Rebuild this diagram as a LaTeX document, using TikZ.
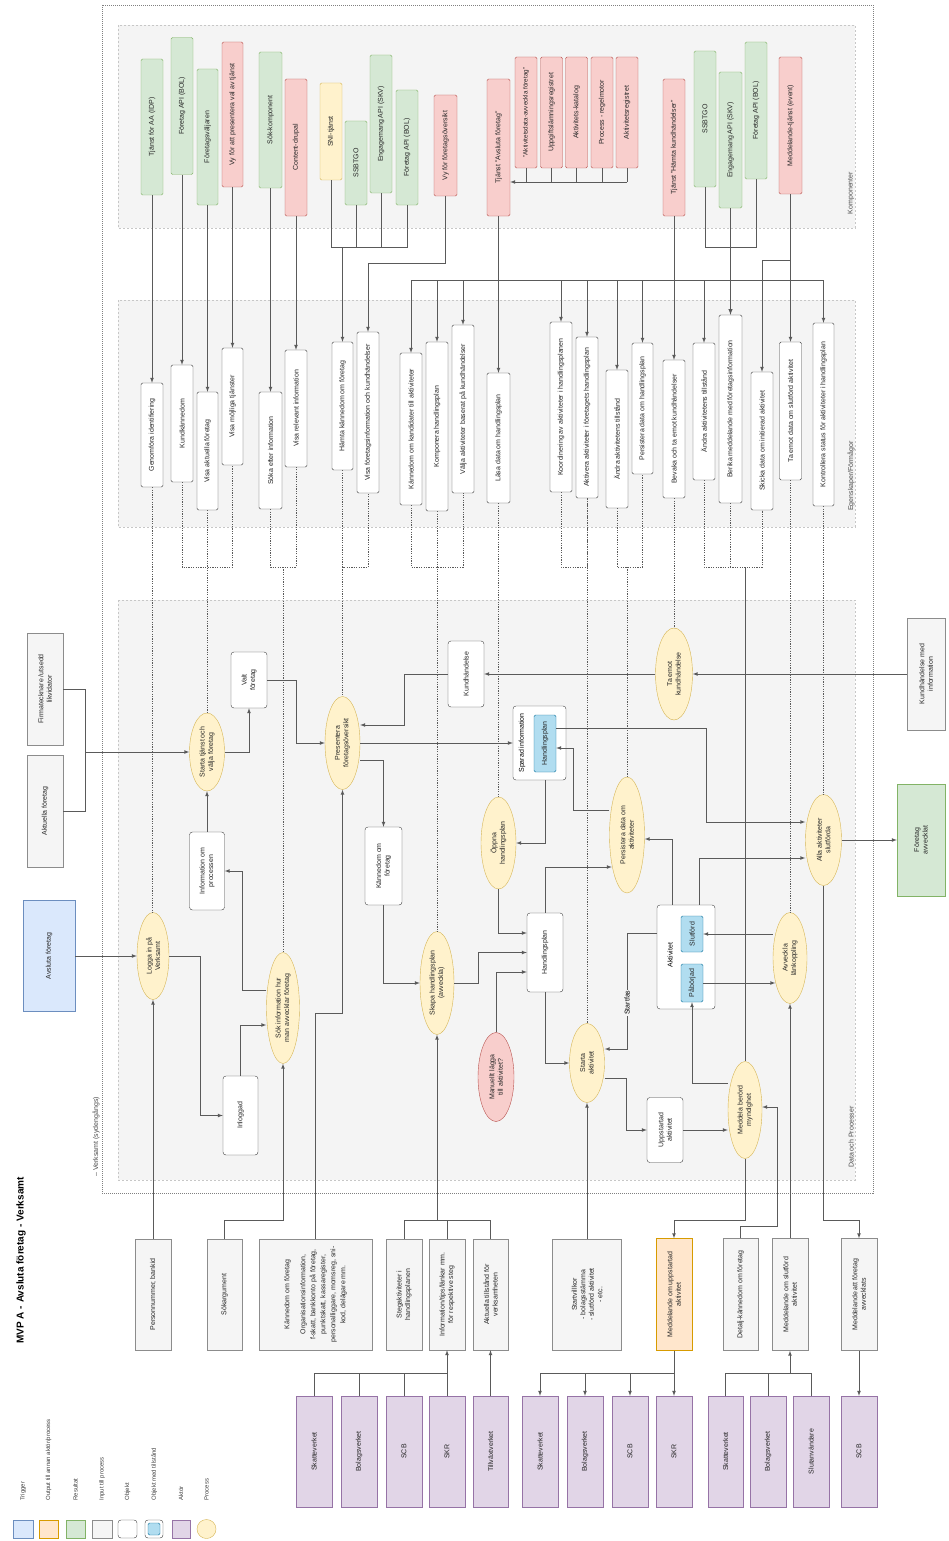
\documentclass[tikz,border=0pt]{standalone}
\usepackage{fontspec}
\setmainfont{Liberation Sans}
\usetikzlibrary{positioning}
\usetikzlibrary{shapes.geometric}
\definecolor{gronFyll}{HTML}{D5E8D4}
\definecolor{gronKant}{HTML}{82B366}
\definecolor{rodFyll}{HTML}{F8CECC}
\definecolor{rodKant}{HTML}{B85450}
\definecolor{gulFyll}{HTML}{FFF2CC}
\definecolor{gulKant}{HTML}{D6B656}
\definecolor{blaFyll}{HTML}{DAE8FC}
\definecolor{blaKant}{HTML}{6C8EBF}
\definecolor{orangeFyll}{HTML}{FFE6CC}
\definecolor{orangeKant}{HTML}{D79B00}
\definecolor{lilaFyll}{HTML}{E1D5E7}
\definecolor{lilaKant}{HTML}{9673A6}
\definecolor{cyanFyll}{HTML}{B1DDF0}
\definecolor{cyanKant}{HTML}{10739E}
\definecolor{gruFyll}{HTML}{F5F5F5}
\definecolor{panelFyll}{HTML}{F4F4F4}
\definecolor{linjeFarg}{HTML}{5A5A5A}
\tikzset{storlek/.style 2 args={minimum height=#1, minimum width=#2},
	ruta/.style={draw, rotate=90, inner sep=1pt, align=center, text=black!85},
	komp/.style={ruta, rounded corners=1.5pt},
	kgron/.style={komp, fill=gronFyll, draw=gronKant},
	krod/.style={komp, fill=rodFyll, draw=rodKant},
	kgul/.style={komp, fill=gulFyll, draw=gulKant},
	egensk/.style={komp, fill=white, draw=black!75},
	objekt/.style={ruta, rounded corners=3pt, fill=white, draw=black!75},
	tillst/.style={komp, fill=cyanFyll, draw=cyanKant},
	process/.style={ellipse, draw=gulKant, fill=gulFyll, rotate=90, inner sep=0pt, align=center, text=black!85},
	indata/.style={ruta, fill=gruFyll, draw=black!45},
	utdata/.style={ruta, fill=orangeFyll, draw=orangeKant},
	trigger/.style={ruta, fill=blaFyll, draw=blaKant},
	resultat/.style={ruta, fill=gronFyll, draw=gronKant},
	aktor/.style={ruta, fill=lilaFyll, draw=lilaKant},
	linje/.style={draw=linjeFarg, line width=0.7pt},
	pil/.style={linje, -latex},
	prick/.style={draw=linjeFarg, line width=0.6pt, dash pattern=on 1.2pt off 1.2pt},
	panel/.style={fill=panelFyll, draw=black!22, dash pattern=on 2pt off 2pt},
	rubrik/.style={rotate=90, text=black!70}}

\begin{document}
\begin{tikzpicture}[x=1pt, y=-1pt, font=\fontsize{7}{8.5}\selectfont]
		\fill[white] (0,0) rectangle (949,1541);
		\useasboundingbox (0,0) rectangle (949,1541);
		% ramar och paneler
		\draw[black!50, dash pattern=on 1pt off 1pt] (102,5) rectangle (873,1193);
		\node[rubrik, anchor=west] (verksamtLbl) at (96,1180) {-- Verksamt (sydengångs)};
		\path[panel] (118,25) rectangle (855,228);
		\path[panel] (118,300) rectangle (855,527);
		\path[panel] (118,600) rectangle (855,1180);
		\node[rubrik] (kompLbl) at (851,193) {Komponenter};
		\node[rubrik] (egenLbl) at (851,476) {Egenskaper/Förmågor};
		\node[rubrik] (dataLbl) at (851,1137) {Data och Processer};
		\node[rotate=90, anchor=west, font=\fontsize{10}{12}\selectfont\bfseries] (titel) at (21,1347) {MVP A - Avsluta företag - Verksamt};

		% komponenter
		\node[kgron, storlek={22}{136}] (tjAA) at (152,127) {Tjänst för AA (IDP)};
		\node[kgron, storlek={22}{137}] (bolApi1) at (182,106) {Företag API (BOL)};
		\node[kgron, storlek={21}{136}] (fvaljare) at (207.5,137) {Företagsväljaren};
		\node[krod, storlek={21}{145}] (vyTjanst) at (232.5,114.5) {Vy för att presentera val av tjänst};
		\node[kgron, storlek={23}{136}] (sokKomp) at (270.5,120) {Sök-komponent};
		\node[krod, storlek={22}{137}] (content) at (296,147.5) {Content-drupal};
		\node[kgul, storlek={22}{97}] (sni) at (331,131.5) {SNI-tjänst};
		\node[kgron, storlek={22}{84}] (ssbtgo1) at (356,163) {SSBTGO};
		\node[kgron, storlek={22}{138}] (engApi1) at (381,124) {Engagemang API (SKV)};
		\node[kgron, storlek={22}{115}] (bolApi2) at (407,147.5) {Företag API (BOL)};
		\node[krod, storlek={23}{101}] (vyOversikt) at (445.5,145.5) {Vy för företagsöversikt};
		\node[krod, storlek={23}{137}] (tjAvsluta) at (498.5,147.5) {Tjänst "Avsluta företag"};
		\node[krod, storlek={22}{111}, font=\fontsize{6.3}{7.5}\selectfont] (aktData) at (526,112.5) {"Aktivitetsdata-avveckla företag"};
		\node[krod, storlek={22}{111}] (uppgReg) at (551.5,112.5) {Uppgiftslämningsregistret};
		\node[krod, storlek={22}{111}] (aktKatalog) at (576.5,112.5) {Aktivitets-katalog};
		\node[krod, storlek={22}{111}] (regelmotor) at (602,112.5) {Process - regelmotor};
		\node[krod, storlek={22}{111}] (aktReg) at (627,112.5) {Aktivitetsregistret};
		\node[krod, storlek={22}{137}] (tjHamta) at (674,147.5) {Tjänst "Hämta kundhändelser"};
		\node[kgron, storlek={22}{136}] (ssbtgo2) at (705,119) {SSBTGO};
		\node[kgron, storlek={23}{136}] (engApi2) at (730.5,140) {Engagemang API (SKV)};
		\node[kgron, storlek={22}{137}] (bolApi3) at (756,110.5) {Företag API (BOL)};
		\node[krod, storlek={23}{137}] (meddTjanst) at (790.5,125.5) {Meddelande-tjänst (event)};

		% egenskaper/formagor
		\node[egensk, storlek={22}{104}] (genomfora) at (152,435) {Genomföra identifiering};
		\node[egensk, storlek={22}{117}] (kundkann) at (182,423.5) {Kundkännedom};
		\node[egensk, storlek={21}{118}] (visaAktuella) at (207.5,451) {Visa aktuella företag};
		\node[egensk, storlek={21}{117}] (visaMojliga) at (232.5,406.5) {Visa möjliga tjänster};
		\node[egensk, storlek={23}{117}] (sokaInfo) at (270.5,450.5) {Söka efter information};
		\node[egensk, storlek={22}{117}] (visaRelevant) at (296,408.5) {Visa relevant information};
		\node[egensk, storlek={21}{128}] (hamtaKann) at (342.5,406) {Hämta kännedom om företag};
		\node[egensk, storlek={22}{161}] (visaFtgInfo) at (368,412.5) {Visa företagsinformation och kundhändelser};
		\node[egensk, storlek={22}{152}] (kannKand) at (411,429) {Kännedom om kandidater till aktiviteter};
		\node[egensk, storlek={22}{169}] (komponera) at (437,426.5) {Komponera handlingsplan};
		\node[egensk, storlek={22}{168}] (valjaAkt) at (463,409) {Välja aktiviteter baserat på kundhändelser};
		\node[egensk, storlek={23}{130}] (lasaData) at (498.5,438) {Läsa data om handlingsplan};
		\node[egensk, storlek={22}{170}] (koordinering) at (561,407) {Koordinering av aktiviteter i handlingsplanen};
		\node[egensk, storlek={22}{161}] (aktivera) at (587,417.5) {Aktivera aktiviteter i företagets handlingsplan};
		\node[egensk, storlek={22}{138}] (andraTillst1) at (617,439) {Ändra aktivitetens tillstånd};
		\node[egensk, storlek={21}{131}] (persistPlan) at (642.5,408.5) {Persistera data om handlingsplan};
		\node[egensk, storlek={22}{138}] (bevaka) at (674,429) {Bevaka och ta emot kundhändelser};
		\node[egensk, storlek={22}{137}] (andraTillst2) at (704,411.5) {Ändra aktivitetens tillstånd};
		\node[egensk, storlek={23}{188}] (berika) at (730.5,409) {Berika meddelande med företagsinformation};
		\node[egensk, storlek={22}{138}] (skicka) at (762,441) {Skicka data om initierad aktivitet};
		\node[egensk, storlek={22}{138}] (taEmotSlut) at (790.5,411) {Ta emot data om slutförd aktivitet};
		\node[egensk, storlek={21}{183}] (kontrollera) at (823.5,414.5) {Kontrollera status för aktiviteter i handlingsplan};

		% processer
		\node[process, storlek={32}{87}] (logga) at (153,956) {Logga in på\\Verksamt};
		\node[process, storlek={33}{111}] (sokInfo) at (283,1008) {Sök information hur\\man avvecklar företag};
		\node[process, storlek={35}{78}] (starta) at (207,752) {Starta tjänst och\\välja företag};
		\node[process, storlek={35}{93}] (presentera) at (342.5,743) {Presentera\\företagsöversikt};
		\node[process, storlek={34}{103}] (skapa) at (437,983) {Skapa handlingsplan\\(avveckla)};
		\node[process, storlek={35}{92}] (oppna) at (498.5,843) {Öppna\\handlingsplan};
		\node[process, fill=rodFyll, draw=rodKant, storlek={36}{89}] (manuellt) at (496,1077) {Manuellt lägga\\till aktivitet?};
		\node[process, storlek={35}{79}] (startaAkt) at (587,1063) {Starta\\aktivitet};
		\node[process, storlek={35}{116}] (persistAkt) at (627,835) {Persistera data om\\aktiviteter};
		\node[process, storlek={37}{92}] (taEmot) at (674,674) {Ta emot\\kundhändelse};
		\node[process, storlek={34}{97}] (meddela) at (745,1110) {Meddela berörd\\myndighet};
		\node[process, storlek={34}{91}] (avveckla) at (790,958) {Avveckla\\länkoppling};
		\node[process, storlek={36}{91}] (alla) at (823.5,840) {Alla aktiviteter\\slutförda};

		% objekt
		\node[objekt, storlek={35}{79}] (inloggad) at (240.5,1115.5) {Inloggad};
		\node[objekt, storlek={35}{78}] (infoProc) at (207,871) {Information om\\processen};
		\node[objekt, storlek={36}{56}] (valt) at (249,680) {Valt\\företag};
		\node[objekt, storlek={36}{66}] (kundh) at (466,674) {Kundhändelse};
		\node[objekt, storlek={37}{78}] (kannFtg) at (383.5,866) {Kännedom om\\företag};
		\node[objekt, storlek={36}{79}] (hplan) at (545,952.5) {Handlingsplan};
		\node[objekt, storlek={36}{65}] (uppstartad) at (665,1130) {Uppstartad\\aktivitet};
		\node[objekt, storlek={53}{74}] (sparad) at (539.5,743) {};
		\node[rotate=90] (sparadLbl) at (522,743) {Sparad information};
		\node[tillst, storlek={22}{57}] (hplanInner) at (545,743.5) {Handlingsplan};
		\node[objekt, storlek={58}{104}] (aktivitet) at (686,957) {};
		\node[rotate=90] (aktivitetLbl) at (670,955) {Aktivitet};
		\node[tillst, storlek={22}{36}] (slutford) at (692,934) {Slutförd};
		\node[tillst, storlek={22}{38}] (paborjad) at (692,983) {Påbörjad};

		% trigger, indata och resultat utanfor
		\node[trigger, storlek={52}{111}] (avslutaTrig) at (49,956) {Avsluta företag};
		\node[indata, storlek={36}{112}] (aktuellaFtg) at (45,811) {Aktuella företag};
		\node[indata, storlek={36}{112}] (firmatecknare) at (45,689) {Firmatecknare /utsedd\\likvidator};
		\node[indata, storlek={38}{112}] (kundhInfo) at (926,674) {Kundhändelse med\\information};
		\node[resultat, storlek={48}{112}] (ftgAvvecklat) at (921,840) {Företag\\avvecklat};

		\node[indata, storlek={36}{111}] (pnr) at (153,1294.5) {Personnummer, bankid};
		\node[indata, storlek={35}{111}] (sokarg) at (224.5,1294.5) {Sökargument};
		\node[indata, storlek={113}{111}, font=\fontsize{7}{10}\selectfont] (kannInput) at (315.5,1294.5) {Kännedom om företag\\[6pt]Organisationsinformation,\\f-skatt, bankkonto på företag,\\punktskatt, kassaregister,\\personalliggare, momsreg, sni-\\kod, delägare mm.};
		\node[indata, storlek={36}{111}] (stegakt) at (404,1294.5) {Stegaktiviteter i\\handlingsplanen};
		\node[indata, storlek={36}{111}] (infoTips) at (447,1294.5) {Information/tips/länkar mm.\\för respektive steg};
		\node[indata, storlek={35}{111}] (aktuellaTillst) at (490.5,1294.5) {Aktuella tillstånd för\\verksamheten};
		\node[indata, storlek={69}{111}] (startvillkor) at (587,1294.5) {Startvillkor\\- bolagsstämma\\- slutförd aktivitet\\- etc.};
		\node[utdata, storlek={36}{112}] (meddUppst) at (674,1294.5) {Meddelande om uppstartad\\aktivitet};
		\node[indata, storlek={35}{112}] (detalj) at (740.5,1294.5) {Detalj-kännedom om företag};
		\node[indata, storlek={36}{112}] (meddSlut) at (790,1294.5) {Meddelande om slutförd\\aktivitet};
		\node[indata, storlek={36}{112}] (meddAvv) at (859,1294.5) {Meddelande att företag\\avvecklats};

		% aktorer
		\node[aktor, storlek={36}{111}] (skv1) at (314,1451.5) {Skatteverket};
		\node[aktor, storlek={36}{111}] (bol1) at (359,1451.5) {Bolagsverket};
		\node[aktor, storlek={36}{111}] (scb1) at (404,1451.5) {SCB};
		\node[aktor, storlek={36}{111}] (skr1) at (447,1451.5) {SKR};
		\node[aktor, storlek={35}{111}] (tillv) at (490.5,1451.5) {Tillväxtverket};
		\node[aktor, storlek={36}{111}] (skv2) at (540,1451.5) {Skatteverket};
		\node[aktor, storlek={36}{111}] (bol2) at (585,1451.5) {Bolagsverket};
		\node[aktor, storlek={36}{111}] (scb2) at (630,1451.5) {SCB};
		\node[aktor, storlek={36}{111}] (skr2) at (674,1451.5) {SKR};
		\node[aktor, storlek={35}{111}] (skv3) at (725.5,1451.5) {Skatteverket};
		\node[aktor, storlek={36}{111}] (bol3) at (768,1451.5) {Bolagsverket};
		\node[aktor, storlek={36}{111}] (slutanv) at (811,1451.5) {Slutanvändare};
		\node[aktor, storlek={36}{111}] (scb3) at (859,1451.5) {SCB};

		% komponenter -> egenskaper
		\draw[pil] (tjAA.west) -- (genomfora.east);
		\draw[pil] (bolApi1.west) -- (kundkann.east);
		\draw[pil] (fvaljare.west) -- (visaAktuella.east);
		\draw[pil] (vyTjanst.west) -- (visaMojliga.east);
		\draw[pil] (sokKomp.west) -- (sokaInfo.east);
		\draw[pil] (content.west) -- (visaRelevant.east);
		\draw[linje] (sni.west) -- (sni.west |- 0,247) -| (bolApi2.west);
		\draw[linje] (ssbtgo1.west) -- (ssbtgo1.west |- 0,247);
		\draw[linje] (engApi1.west) -- (engApi1.west |- 0,247);
		\draw[pil] (hamtaKann.east |- 0,247) -- (hamtaKann.east);
		\draw[pil] (vyOversikt.west) -- (vyOversikt.west |- 0,263) -| (visaFtgInfo.east);
		\foreach \n in {aktData, uppgReg, aktKatalog, regelmotor, aktReg}
			\draw[linje] (\n.west) -- (\n.west |- 0,182);
		\draw[pil] (aktReg.west |- 0,182) -- (tjAvsluta.south |- 0,182);
		\draw[linje] (tjAvsluta.west) -- (tjAvsluta.west |- 0,280);
		\draw[linje] (kannKand.east |- 0,280) -- (kontrollera.east |- 0,280);
		\foreach \n in {kannKand, komponera, valjaAkt, lasaData, koordinering, aktivera, andraTillst1, persistPlan, andraTillst2, kontrollera}
			\draw[pil] (\n.east |- 0,280) -- (\n.east);
		\draw[pil] (tjHamta.west) -- (bevaka.east);
		\draw[linje] (ssbtgo2.west) -- (ssbtgo2.west |- 0,247) -| (bolApi3.west);
		\draw[pil, line width=1pt] (engApi2.west) -- (berika.east);
		\draw[pil] (meddTjanst.west) -- (taEmotSlut.east);
		\draw[pil] (meddTjanst.west |- 0,260) -| (skicka.east);

		% egenskaper -> processer
		\draw[prick] (genomfora.west) -- (genomfora.west |- logga.east);
		\draw[prick] (kundkann.west) -- (kundkann.west |- 0,567) -| (visaMojliga.west);
		\draw[prick] (visaAktuella.west) -- (visaAktuella.west |- starta.east);
		\draw[prick] (sokaInfo.west) -- (sokaInfo.west |- 0,567) -| (visaRelevant.west);
		\draw[prick] (sokInfo.east |- 0,567) -- (sokInfo.east);
		\draw[prick] (hamtaKann.west) -- (hamtaKann.west |- 0,567) -| (visaFtgInfo.west);
		\draw[prick] (hamtaKann.west |- 0,567) -- (presentera.east);
		\draw[prick] (kannKand.west) -- (kannKand.west |- 0,567) -| (valjaAkt.west);
		\draw[prick] (komponera.west) -- (skapa.east);
		\draw[prick] (lasaData.west) -- (oppna.east);
		\draw[prick] (koordinering.west) -- (koordinering.west |- 0,567) -| (aktivera.west);
		\draw[prick] (aktivera.west) -- (startaAkt.east);
		\draw[prick] (andraTillst1.west) -- (andraTillst1.west |- 0,567) -| (persistPlan.west);
		\draw[prick] (persistAkt.east |- 0,567) -- (persistAkt.east);
		\draw[prick] (bevaka.west) -- (taEmot.east);
		\draw[prick] (andraTillst2.west) -- (andraTillst2.west |- 0,567) -| (skicka.west);
		\draw[prick] (berika.west) -- (berika.west |- 0,567);
		\draw[linje] (meddela.east |- 0,567) -- (meddela.east);
		\draw[prick] (taEmotSlut.west) -- (taEmotSlut.west |- avveckla.east);
		\draw[prick] (kontrollera.west) -- (kontrollera.west |- alla.east);

		% processflode
		\coordinate (jIn) at (85,752);
		\draw[pil] (avslutaTrig.south) -- (logga.north);
		\draw[linje] (firmatecknare.south) -| (jIn);
		\draw[linje] (aktuellaFtg.south) -| (jIn);
		\draw[pil] (jIn) -- (starta.north);
		\draw[pil] (logga.south) -| (200,1115.5) -- (inloggad.north);
		\draw[pil] (inloggad.east) |- (sokInfo.north |- 0,1025);
		\draw[pil] (sokInfo.north |- 0,990) -| (242,871) -- (infoProc.south);
		\draw[pil] (infoProc.east) -- (starta.west);
		\draw[pil] (starta.south) -| (valt.west);
		\draw[pil] (valt.south) -| (296,743) -- (presentera.north);
		\draw[pil] (presentera.south) -- (sparad.north);
		\draw[pil] (kundh.north) -| (404,725) -- (presentera.south |- 0,725);
		\draw[pil] (taEmot.north) -- (kundh.south);
		\draw[pil] (kundhInfo.north) -- (taEmot.south);
		\draw[pil] (presentera.south |- 0,760) -| (kannFtg.east);
		\draw[pil] (kannFtg.west) |- (skapa.north);
		\draw[pil] (skapa.south) -| (478,952.5) -- (hplan.north);
		\draw[pil] (oppna.west) |- (hplan.north |- 0,933);
		\draw[pil] (manuellt.east) |- (hplan.north |- 0,972);
		\draw[pil] (hplanInner.west |- sparad.west) |- (oppna.south);
		\draw[pil] (hplan.west) |- (startaAkt.north);
		\draw[pil, shorten >=-2.5pt] (hplan.east) |- (persistAkt.north |- 0,867);
		\draw[pil] (persistAkt.north |- 0,810) -| (573,748) -- (hplanInner.south |- 0,748);
		\draw[pil] (hplanInner.south |- 0,728) -| (706,822) -- (alla.north |- 0,822);
		\draw[pil] (aktivitet.east -| 699,0) |- (alla.north |- 0,858);
		\draw[pil] (aktivitet.east -| 672,0) |- (persistAkt.south |- 0,839);
		\draw[pil] (avveckla.north |- slutford.south) -- (slutford.south);
		\draw[pil, shorten >=-2.5pt] (paborjad.south) -- (avveckla.north |- paborjad.south);
		\draw[pil] (aktivitet.north |- 0,933) -| (627,1049) node[pos=0.8, rotate=90, fill=panelFyll, inner sep=1pt] (startfasLbl) {Startfas} -- (startaAkt.south |- 0,1049);
		\draw[pil] (startaAkt.south |- 0,1078) -| (626,1130) -- (uppstartad.north);
		\draw[pil] (uppstartad.south) -- (meddela.north |- uppstartad.south);
		\draw[pil] (meddela.north |- 0,1083) -| (paborjad.west);
		\draw[pil] (detalj.east) |- (777,1226) -- (777,1107) -- (meddela.south |- 0,1107);
		\draw[pil] (meddSlut.east) -- (avveckla.west);
		\draw[pil] (meddela.west) |- (meddUppst.east |- 0,1220) -- (meddUppst.east);
		\draw[pil] (alla.west) |- (meddAvv.east |- 0,1220) -- (meddAvv.east);
		\draw[pil] (alla.south) -- (ftgAvvecklat.north);

		% indata och aktorer
		\draw[pil] (pnr.east) -- (pnr.east |- logga.west);
		\draw[pil] (sokarg.east) |- (sokInfo.west |- 0,1220) -- (sokInfo.west);
		\draw[pil] (kannInput.east) |- (presentera.west |- 0,1013) -- (presentera.west);
		\draw[linje] (stegakt.east) -- (stegakt.east |- 0,1220) -| (aktuellaTillst.east);
		\draw[linje] (infoTips.east) -- (infoTips.east |- 0,1220);
		\draw[pil] (skapa.west |- 0,1220) -- (skapa.west);
		\draw[pil] (startvillkor.east) -- (startaAkt.west);
		\draw[linje] (skv1.east) -- (skv1.east |- 0,1373) -| (skr1.east);
		\foreach \n in {bol1, scb1}
			\draw[linje] (\n.east) -- (\n.east |- 0,1373);
		\draw[pil] (skr1.east) -- (infoTips.west);
		\draw[pil] (tillv.east) -- (aktuellaTillst.west);
		\draw[pil] (meddUppst.west) -- (skr2.east);
		\draw[linje] (skv2.east |- 0,1373) -- (skr2.east |- 0,1373);
		\foreach \n in {skv2, bol2, scb2}
			\draw[pil] (\n.east |- 0,1373) -- (\n.east);
		\draw[linje] (skv3.east) -- (skv3.east |- 0,1373) -| (slutanv.east);
		\draw[linje] (bol3.east) -- (bol3.east |- 0,1373);
		\draw[pil] (meddSlut.west |- 0,1373) -- (meddSlut.west);
		\draw[pil] (meddAvv.west) -- (scb3.east);

		% teckenforklaring
		\draw[fill=blaFyll, draw=blaKant] (13,1520) rectangle (33,1538);
		\draw[fill=orangeFyll, draw=orangeKant] (39,1520) rectangle (58,1538);
		\draw[fill=gronFyll, draw=gronKant] (66,1520) rectangle (85,1538);
		\draw[fill=gruFyll, draw=black!45] (92,1520) rectangle (112,1538);
		\draw[fill=white, draw=black!75, rounded corners=3pt] (118,1520) rectangle (137,1538);
		\draw[fill=white, draw=black!75, rounded corners=3pt] (145,1520) rectangle (163,1538);
		\draw[fill=cyanFyll, draw=cyanKant, rounded corners=1.5pt] (148,1523) rectangle (160,1535);
		\draw[fill=lilaFyll, draw=lilaKant] (172,1520) rectangle (190,1538);
		\draw[fill=gulFyll, draw=gulKant] (206.5,1529) circle (9.5);
		\foreach \x/\t/\n in {23/Trigger/lgTrigger, 48.5/{Output till annan aktör/process}/lgOutput, 75.5/Resultat/lgResultat, 102/Input till process/lgInput, 127.5/Objekt/lgObjekt, 154/Objekt med tillstånd/lgTillst, 181/Aktör/lgAktor, 206.5/Process/lgProcess}
			\node[rotate=90, anchor=west, font=\fontsize{6}{7}\selectfont, text=black!75] (\n) at (\x,1504) {\t};
	\end{tikzpicture}
\end{document}
